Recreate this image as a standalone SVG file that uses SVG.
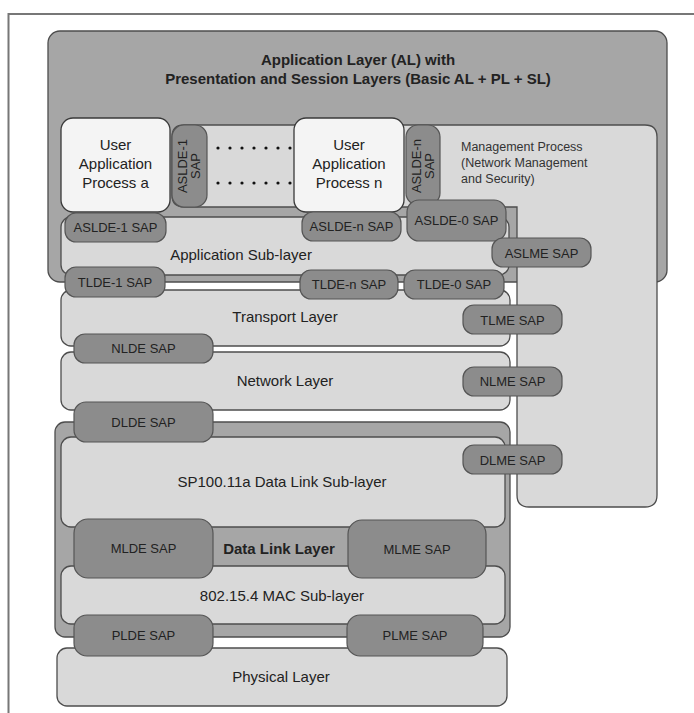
<svg xmlns="http://www.w3.org/2000/svg" width="694" height="713" viewBox="0 0 694 713">
<style>
.bg{fill:#ffffff}
.frame{fill:none;stroke:#777777;stroke-width:2}
.mid{fill:#a6a6a6;stroke:#4d4d4d;stroke-width:1.3}
.lt{fill:#d9d9d9;stroke:#4d4d4d;stroke-width:1.3}
.ua{fill:#f4f4f4;stroke:#3a3a3a;stroke-width:1.3}
.sap{fill:#8c8c8c;stroke:#555555;stroke-width:1.2}
text{font-family:"Liberation Sans",Arial,sans-serif;fill:#222222}
.t15{font-size:15px;text-anchor:middle}
.t13{font-size:13px;text-anchor:middle}
.tb{font-weight:bold}
.mg{font-size:12.5px;fill:#333333}
.dot{fill:#111111}
</style>
<rect class="bg" x="0" y="0" width="694" height="713"/>
<path class="frame" d="M8.5 713 V14 H694"/>

<g id="application-layer">
<rect class="mid" x="48" y="31" width="619" height="251" rx="12"/>
<text class="t15 tb" x="358" y="65">Application Layer (AL) with</text>
<text class="t15 tb" x="358" y="84">Presentation and Session Layers (Basic AL + PL + SL)</text>
</g>

<g id="management-process">
<path class="lt" d="M184 125 H645 Q657 125 657 137 V495 Q657 507 645 507 H529 Q517 507 517 495 V207 H184 Q172 207 172 195 V137 Q172 125 184 125 Z"/>
<text class="mg" x="461" y="151">Management Process</text>
<text class="mg" x="461" y="167">(Network Management</text>
<text class="mg" x="461" y="183">and Security)</text>
</g>

<g id="dots">
<circle class="dot" cx="218" cy="148" r="1.6"/><circle class="dot" cx="230" cy="148" r="1.6"/><circle class="dot" cx="242" cy="148" r="1.6"/><circle class="dot" cx="254" cy="148" r="1.6"/><circle class="dot" cx="266" cy="148" r="1.6"/><circle class="dot" cx="278" cy="148" r="1.6"/><circle class="dot" cx="290" cy="148" r="1.6"/>
<circle class="dot" cx="218" cy="183" r="1.6"/><circle class="dot" cx="230" cy="183" r="1.6"/><circle class="dot" cx="242" cy="183" r="1.6"/><circle class="dot" cx="254" cy="183" r="1.6"/><circle class="dot" cx="266" cy="183" r="1.6"/><circle class="dot" cx="278" cy="183" r="1.6"/><circle class="dot" cx="290" cy="183" r="1.6"/>
</g>

<g id="application-sublayer">
<rect class="lt" x="61" y="217" width="448" height="58" rx="10"/>
<text class="t15" x="241" y="259.5">Application Sub-layer</text>
</g>

<g id="user-app-a">
<rect class="ua" x="61" y="118" width="109" height="94" rx="12"/>
<text class="t15" x="115.5" y="150">User</text>
<text class="t15" x="115.5" y="169">Application</text>
<text class="t15" x="115.5" y="188">Process a</text>
</g>

<g id="user-app-n">
<rect class="ua" x="294" y="118" width="110" height="94" rx="12"/>
<text class="t15" x="349" y="150">User</text>
<text class="t15" x="349" y="169">Application</text>
<text class="t15" x="349" y="188">Process n</text>
</g>

<g id="aslde-1-sap-v">
<rect class="sap" x="172" y="125" width="35" height="82" rx="12"/>
<text class="t13" transform="translate(186.5,166) rotate(-90)">ASLDE-1</text>
<text class="t13" transform="translate(200,166) rotate(-90)">SAP</text>
</g>

<g id="aslde-n-sap-v">
<rect class="sap" x="406" y="125" width="34" height="80" rx="12"/>
<text class="t13" transform="translate(420.5,166) rotate(-90)">ASLDE-n</text>
<text class="t13" transform="translate(433.5,166) rotate(-90)">SAP</text>
</g>

<g id="aslde-1-sap">
<rect class="sap" x="65" y="213" width="101" height="29" rx="11"/>
<text class="t13" x="115.5" y="232">ASLDE-1 SAP</text>
</g>
<g id="aslde-n-sap">
<rect class="sap" x="302" y="212" width="99" height="29" rx="11"/>
<text class="t13" x="351.5" y="231">ASLDE-n SAP</text>
</g>
<g id="aslde-0-sap">
<rect class="sap" x="407" y="200" width="99" height="41" rx="12"/>
<text class="t13" x="456.5" y="225">ASLDE-0 SAP</text>
</g>
<g id="aslme-sap">
<rect class="sap" x="492" y="238" width="99" height="29" rx="11"/>
<text class="t13" x="541.5" y="257.5">ASLME SAP</text>
</g>

<g id="transport-layer">
<rect class="lt" x="61" y="290" width="449" height="56" rx="10"/>
<text class="t15" x="285" y="321.5">Transport Layer</text>
</g>
<g id="tlde-1-sap">
<rect class="sap" x="65" y="267" width="100" height="30" rx="11"/>
<text class="t13" x="115" y="286.5">TLDE-1 SAP</text>
</g>
<g id="tlde-n-sap">
<rect class="sap" x="300" y="270" width="98" height="29" rx="11"/>
<text class="t13" x="349" y="289">TLDE-n SAP</text>
</g>
<g id="tlde-0-sap">
<rect class="sap" x="404" y="270" width="100" height="29" rx="11"/>
<text class="t13" x="454" y="289">TLDE-0 SAP</text>
</g>
<g id="tlme-sap">
<rect class="sap" x="463" y="305" width="99" height="29" rx="11"/>
<text class="t13" x="512.5" y="324.5">TLME SAP</text>
</g>

<g id="network-layer">
<rect class="lt" x="61" y="352" width="449" height="58" rx="10"/>
<text class="t15" x="285" y="385.5">Network Layer</text>
</g>
<g id="nlde-sap">
<rect class="sap" x="74" y="334" width="139" height="29" rx="11"/>
<text class="t13" x="143.5" y="353">NLDE SAP</text>
</g>
<g id="nlme-sap">
<rect class="sap" x="463" y="367" width="99" height="29" rx="11"/>
<text class="t13" x="512.5" y="386">NLME SAP</text>
</g>

<g id="data-link-layer">
<rect class="mid" x="55" y="422" width="455" height="215" rx="10"/>
<text class="t15 tb" x="279" y="553.5">Data Link Layer</text>
</g>
<g id="sp100-dl-sublayer">
<rect class="lt" x="61" y="437" width="444" height="90" rx="10"/>
<text class="t15" x="282" y="487">SP100.11a Data Link Sub-layer</text>
</g>
<g id="dlde-sap">
<rect class="sap" x="74" y="402" width="139" height="40" rx="12"/>
<text class="t13" x="143.5" y="426.5">DLDE SAP</text>
</g>
<g id="dlme-sap">
<rect class="sap" x="463" y="445" width="99" height="29" rx="11"/>
<text class="t13" x="512.5" y="464.5">DLME SAP</text>
</g>

<g id="mac-sublayer">
<rect class="lt" x="61" y="566" width="444" height="58" rx="10"/>
<text class="t15" x="282" y="600.5">802.15.4 MAC Sub-layer</text>
</g>
<g id="mlde-sap">
<rect class="sap" x="74" y="519" width="139" height="59" rx="14"/>
<text class="t13" x="143.5" y="553">MLDE SAP</text>
</g>
<g id="mlme-sap">
<rect class="sap" x="348" y="520" width="138" height="58" rx="14"/>
<text class="t13" x="417" y="553.5">MLME SAP</text>
</g>

<g id="physical-layer">
<rect class="lt" x="57" y="648" width="450" height="58" rx="10"/>
<text class="t15" x="281" y="681.5">Physical Layer</text>
</g>
<g id="plde-sap">
<rect class="sap" x="74" y="615" width="139" height="41" rx="13"/>
<text class="t13" x="143.5" y="640">PLDE SAP</text>
</g>
<g id="plme-sap">
<rect class="sap" x="347" y="615" width="136" height="41" rx="13"/>
<text class="t13" x="415" y="640">PLME SAP</text>
</g>

<g id="connectors"></g>
</svg>
